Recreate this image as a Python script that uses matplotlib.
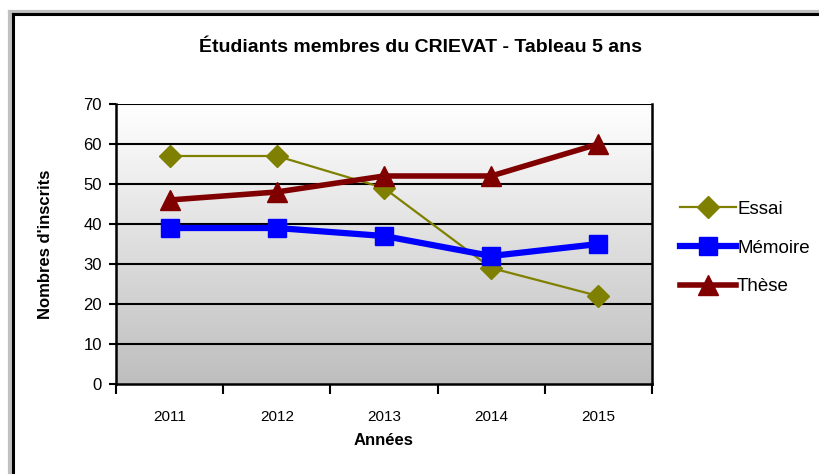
import numpy as np
import matplotlib.pyplot as plt
from matplotlib.colors import LinearSegmentedColormap
from matplotlib.lines import Line2D

# données
annees  = ['2011', '2012', '2013', '2014', '2015']
essai   = [57, 57, 49, 29, 22]
memoire = [39, 39, 37, 32, 35]
these   = [46, 48, 52, 52, 60]

plt.rcParams['font.family'] = ['Liberation Sans', 'DejaVu Sans']

fig = plt.figure(figsize=(8.2, 4.74), dpi=100)
fig.patch.set_facecolor('white')

# cadre du graphique (gris + noir)
W, H = 820, 474
def fx(px): return px / W
def fy(py): return 1 - py / H
fig.add_artist(Line2D([fx(10), fx(10)], [fy(11.5), 0], color='#c0c0c0', lw=3, transform=fig.transFigure))
fig.add_artist(Line2D([fx(10), 1], [fy(11.5), fy(11.5)], color='#c0c0c0', lw=3, transform=fig.transFigure))
fig.add_artist(Line2D([fx(13.5), fx(13.5)], [fy(14), 0], color='black', lw=2.2, transform=fig.transFigure))
fig.add_artist(Line2D([fx(13.5), 1], [fy(14), fy(14)], color='black', lw=2.2, transform=fig.transFigure))

ax = fig.add_axes([116 / W, 1 - 384 / H, 536 / W, 280 / H])

# fond dégradé
grad = np.linspace(1, 0, 256).reshape(-1, 1)
cmap = LinearSegmentedColormap.from_list('g', ['#bebebe', '#ffffff'])
ax.imshow(grad, extent=[0, 1, 0, 1], transform=ax.transAxes, aspect='auto', cmap=cmap, zorder=0)

x = np.arange(len(annees))
ax.plot(x, essai, color='#808000', lw=1.6, marker='D', markersize=11, label='Essai', zorder=3)
ax.plot(x, memoire, color='#0000ff', lw=4.5, marker='s', markersize=13, label='Mémoire', zorder=3)
ax.plot(x, these, color='#800000', lw=4, marker='^', markersize=14, label='Thèse', zorder=3)

ax.set_xlim(-0.5, 4.5)
ax.set_ylim(0, 70)
ax.set_yticks(range(0, 71, 10))
ax.set_xticks(x)
ax.set_xticklabels(annees)
ax.set_xticks(np.arange(-0.5, 5, 1), minor=True)
ax.tick_params(axis='x', which='major', length=0, pad=19, labelsize=11)
ax.tick_params(axis='x', which='minor', length=7, width=1.5)
ax.tick_params(axis='y', length=5, width=1.5, labelsize=12, pad=5)
for v in range(10, 71, 10):
    ax.axhline(v, color='black', lw=1.5, zorder=1)
for s in ['left', 'bottom', 'right']:
    ax.spines[s].set_linewidth(1.8)
ax.spines['top'].set_visible(False)

ax.set_xlabel('Années', fontsize=12, fontweight='bold', labelpad=6)
ax.set_ylabel("Nombres d'inscrits", fontsize=12, fontweight='bold', labelpad=22)
fig.text(fx(421), fy(47), 'Étudiants membres du CRIEVAT - Tableau 5 ans',
         ha='center', va='center', fontsize=14, fontweight='bold')

fig.legend(loc='center left', bbox_to_anchor=(fx(663), fy(248)), frameon=False,
           fontsize=13.5, handlelength=3.0, handletextpad=0.05, labelspacing=1.15)

fig.savefig('out.png', dpi=100)
